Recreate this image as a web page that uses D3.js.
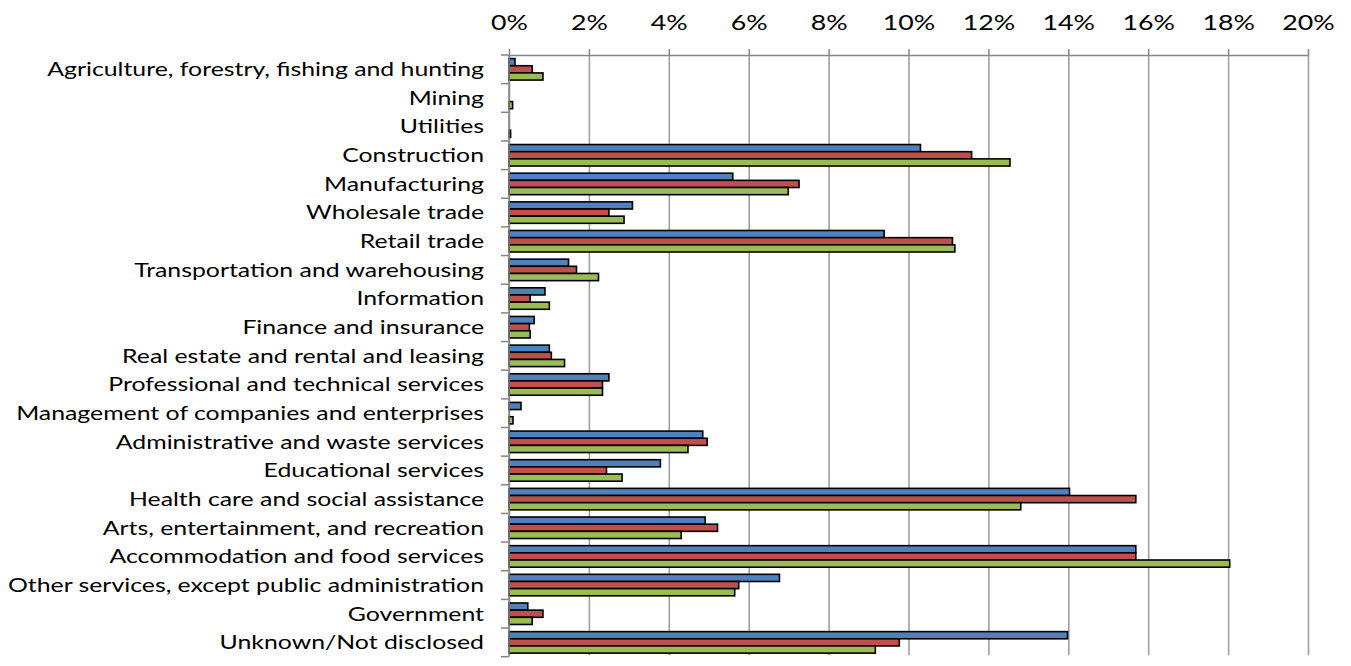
<!DOCTYPE html>
<html>
<head>
<meta charset="utf-8">
<script src="https://cdn.jsdelivr.net/npm/d3@7"></script>
<style>
  body { margin: 0; background: #fff; }
  text { font-family: Lato, "Open Sans", sans-serif; fill: #000; }
</style>
</head>
<body>
<script>
// industries, top to bottom
const industries = [
  'Agriculture, forestry, fishing and hunting',
  'Mining',
  'Utilities',
  'Construction',
  'Manufacturing',
  'Wholesale trade',
  'Retail trade',
  'Transportation and warehousing',
  'Information',
  'Finance and insurance',
  'Real estate and rental and leasing',
  'Professional and technical services',
  'Management of companies and enterprises',
  'Administrative and waste services',
  'Educational services',
  'Health care and social assistance',
  'Arts, entertainment, and recreation',
  'Accommodation and food services',
  'Other services, except public administration',
  'Government',
  'Unknown/Not disclosed'
];
const seriesNames = ['Series 1', 'Series 2', 'Series 3'];
// shares in percent
const blueVals  = [0.15, 0, 0, 10.30, 5.60, 3.09, 9.39, 1.49, 0.90, 0.63, 1.01, 2.50, 0.30, 4.85, 3.79, 14.03, 4.91, 15.69, 6.77, 0.47, 13.98];
const redVals   = [0.58, 0, 0, 11.58, 7.26, 2.50, 11.10, 1.69, 0.53, 0.51, 1.06, 2.34, 0, 4.96, 2.44, 15.69, 5.22, 15.69, 5.75, 0.85, 9.77];
const greenVals = [0.85, 0.09, 0.04, 12.54, 6.99, 2.88, 11.16, 2.24, 1.01, 0.53, 1.39, 2.34, 0.10, 4.48, 2.83, 12.81, 4.31, 18.04, 5.65, 0.58, 9.17];
const xTicks = [0, 2, 4, 6, 8, 10, 12, 14, 16, 18, 20];

const colors = ['#4F81BD', '#C0504D', '#9BBB59'];
const allVals = [blueVals, redVals, greenVals];

const w = 1351, h = 666;
const pLeft = 509, pRight = 1308, pTop = 55, pBottom = 656.7;
const labelPad = 25;

const svg = d3.select('body').append('svg').attr('width', w).attr('height', h);

const x = d3.scaleLinear().domain([0, 20]).range([pLeft, pRight]);
const y = d3.scaleBand().domain(industries).range([pTop, pBottom]).padding(0);
const ySub = d3.scaleBand().domain(seriesNames).range([0, y.bandwidth()]).paddingInner(0).paddingOuter(0.5);

// gridlines
svg.append('g')
  .attr('transform', 'translate(0,' + pTop + ')')
  .call(d3.axisBottom(x).tickValues(xTicks).tickSize(pBottom - pTop - 1.5).tickFormat(''))
  .call(g => g.select('.domain').remove())
  .selectAll('line').attr('stroke', '#a0a0a0').attr('stroke-width', 1.6);

// category labels
const yAxis = svg.append('g')
  .attr('transform', 'translate(' + pLeft + ',0)')
  .call(d3.axisLeft(y).tickSize(0).tickPadding(labelPad));
yAxis.select('.domain').remove();
const yText = yAxis.selectAll('text').style('font-size', '19.5px').attr('dy', '0.35em');
// reference text is wide: stretch horizontally so the first label spans ~437px
const firstW = yText.nodes()[0].getComputedTextLength();
const k = 437 / firstW;
yText.attr('transform', 'translate(' + (-labelPad * (1 - k)) + ',0) scale(' + k + ',1)');

// top axis
const xAxis = svg.append('g')
  .attr('transform', 'translate(0,' + pTop + ')')
  .call(d3.axisTop(x).tickValues(xTicks).tickSize(6).tickPadding(19).tickSizeOuter(0).tickFormat(d => d + '%'));
xAxis.select('.domain').attr('stroke', '#868686').attr('stroke-width', 1.5);
xAxis.selectAll('line').attr('stroke', '#868686').attr('stroke-width', 1.5);
xAxis.selectAll('text').style('font-size', '21px').attr('dy', '0').attr('transform', 'scale(' + k + ',1)');

// tick marks between categories
const bounds = industries.map(d => y(d)).concat([pBottom]);
svg.append('g').selectAll('line')
  .data(bounds)
  .enter().append('line')
  .attr('x1', pLeft - 8).attr('x2', pLeft)
  .attr('y1', d => d).attr('y2', d => d)
  .attr('stroke', '#868686').attr('stroke-width', 1.5);

// bars
const rows = [];
industries.forEach((ind, i) => {
  seriesNames.forEach((s, j) => rows.push({ ind: ind, s: s, v: allVals[j][i], c: colors[j] }));
});
svg.append('g').selectAll('rect')
  .data(rows.filter(d => d.v > 0))
  .enter().append('rect')
  .attr('x', x(0))
  .attr('y', d => y(d.ind) + ySub(d.s))
  .attr('width', d => x(d.v) - x(0))
  .attr('height', ySub.bandwidth())
  .attr('fill', d => d.c)
  .attr('stroke', '#000')
  .attr('stroke-width', 1.6);

// y axis line
svg.append('line')
  .attr('x1', pLeft).attr('x2', pLeft).attr('y1', pTop).attr('y2', pBottom)
  .attr('stroke', '#868686').attr('stroke-width', 1.5);
</script>
</body>
</html>
